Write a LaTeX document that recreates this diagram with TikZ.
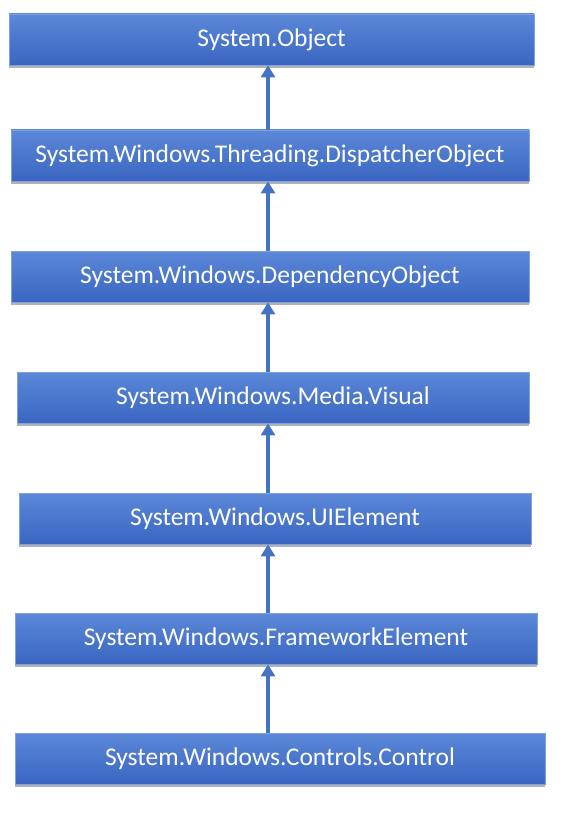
\documentclass[tikz,border=0pt]{standalone}
\usepackage{fontspec}
\setmainfont{Carlito}
\usetikzlibrary{arrows.meta,shadows}
\definecolor{boxtop}{HTML}{5B88D8}
\definecolor{boxbottom}{HTML}{3A66C2}
\definecolor{boxedge}{HTML}{7FA2DF}
\definecolor{linkblue}{HTML}{4472C4}
\tikzset{
    classbox/.style={draw=boxedge, line width=0.8pt, top color=boxtop, bottom color=boxbottom,
        text=white, minimum height=51pt, inner sep=0pt, font=\fontsize{25.5}{30}\selectfont,
        drop shadow={shadow xshift=0pt, shadow yshift=-3pt, opacity=0.3, fill=black}},
    inherits/.style={-{Triangle[length=12pt,width=14pt]}, line width=4.5pt, draw=linkblue},
}

\begin{document}
\begin{tikzpicture}[x=1pt,y=-1pt]
    \useasboundingbox (0,0) rectangle (576,813);
    \coordinate (Spine) at (268,0);
    \node[classbox, minimum width=525pt] (object) at (271.5,39.5) {System.Object};
    \node[classbox, minimum width=518pt] (dispatcher) at (270,155.5) {System.Windows.Threading.DispatcherObject};
    \node[classbox, minimum width=518pt] (dependency) at (270,276.5) {System.Windows.DependencyObject};
    \node[classbox, minimum width=512pt] (visual) at (273,397.5) {System.Windows.Media.Visual};
    \node[classbox, minimum width=512pt] (uielement) at (275,518.5) {System.Windows.UIElement};
    \node[classbox, minimum width=522pt] (framework) at (276,638.5) {System.Windows.FrameworkElement};
    \node[classbox, minimum width=530pt] (control) at (280,758.5) {System.Windows.Controls.Control};
    \foreach \lo/\up in {dispatcher/object, dependency/dispatcher, visual/dependency,
                         uielement/visual, framework/uielement, control/framework}
        \draw[inherits] (Spine |- \lo.north) -- (Spine |- \up.south);
\end{tikzpicture}
\end{document}
